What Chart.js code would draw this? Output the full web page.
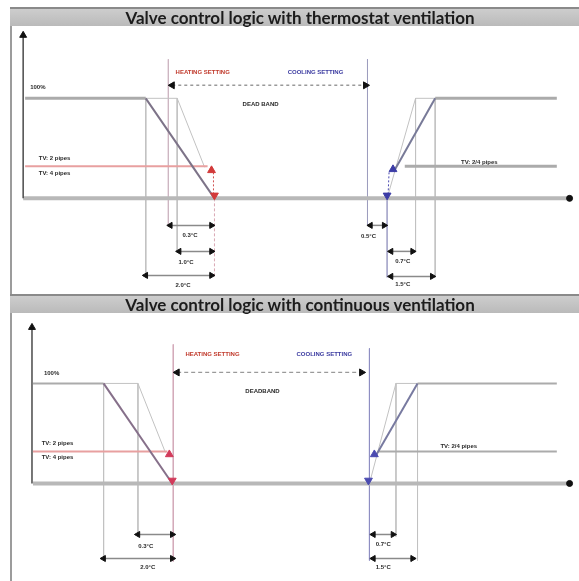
<!DOCTYPE html>
<html>
<head>
<meta charset="utf-8">
<script src="https://cdn.jsdelivr.net/npm/chart.js@4"></script>
<style>
html,body{margin:0;padding:0;background:#fff;width:579px;height:581px;overflow:hidden;}
#wrap{position:relative;width:579px;height:581px;overflow:hidden;}
.bar{position:absolute;left:10px;width:580px;height:17px;background:linear-gradient(#cdcdcd,#bababa);border-top:2px solid #8a8a8a;
 font:bold 17px Lato, "Liberation Sans", sans-serif;color:#1c1c1c;text-align:center;line-height:17px;white-space:nowrap;}
.frame{position:absolute;left:10px;top:8px;width:2px;height:573px;background:#9c9c9c;}
.panel{position:absolute;left:0;width:579px;height:268px;}
</style>
</head>
<body>
<div id="wrap">
  <div class="panel" style="top:26px"><canvas id="c1" width="579" height="268"></canvas></div>
  <div class="panel" style="top:313px"><canvas id="c2" width="579" height="268"></canvas></div>
  <div class="frame"></div>
  <div class="bar" style="top:7px">Valve control logic with thermostat ventilation</div>
  <div class="bar" style="top:294px">Valve control logic with continuous ventilation</div>
</div>
<script>
// ---------- DATA (x = temperature position along the axis, y = valve opening %) ----------
// Top panel: thermostat ventilation
const topBaseline   = [[18,0],[575,0]];
const topYAxis      = [[18,0],[18,163]];
const topHeat100    = [[20,100],[143,100]];
const topHeatRamp   = [[143,100],[213,0]];
const topHeatThin   = [[143,100],[175,100],[203,31]];
const topHeatTV     = [[20,32],[206,32]];
const topHeatMarks  = [[210,28],[213,3]];
const topHeatDrop   = [[212,26],[212,4]];
const topHeatVerts  = [[[143,100],[143,-79]],[[175,100],[175,-53]]];
const topHeatSetLn  = [[166,139],[166,-27]];
const topHeatEndLn  = [[213,0],[213,-79]];
const topCoolSetLn  = [[369,139],[369,-27]];
const topDeadBand   = [[170,113],[367,113]];
const topHeatDims   = [[[168,-27],[210,-27]],[[177,-53],[210,-53]],[[143,-77],[210,-77]]];
const topCoolMarks  = [[395,29],[389,3]];
const topCoolDrop   = [[391,26],[390,4]];
const topCoolThin   = [[389,0],[418,100],[438,100]];
const topCoolRamp   = [[396,27],[438,100]];
const topCool100    = [[438,100],[562,100]];
const topCoolTV     = [[407,32],[562,32]];
const topCoolStartLn= [[389,0],[389,-79]];
const topCoolVerts  = [[[418,100],[418,-53]],[[438,100],[438,-79]]];
const topCoolDims   = [[[372,-27],[386,-27]],[[393,-53],[415,-53]],[[393,-78],[435,-78]]];
const topLabelText  = ["100%","HEATING SETTING","COOLING SETTING","DEAD BAND","TV: 2 pipes","TV: 4 pipes","TV: 2/4 pipes","0.3°C","1.0°C","2.0°C","0.5°C","0.7°C","1.5°C"];
const topLabelX     = [33,201,316,260,50,50,483,188,184,181,370,405,405];
const topLabelY     = [111,125.6,125.6,94,40,25,36,-37,-64,-87,-38,-63,-86];
const topLabelKind  = ["k","h","c","k","k","k","k","k","k","k","k","k","k"];

// Bottom panel: continuous ventilation
const botBaseline   = [[28,0],[575,0]];
const botYAxis      = [[27,0],[27,156]];
const botHeat100    = [[28,100],[100,100]];
const botHeatRamp   = [[100,100],[170,0]];
const botHeatThin   = [[100,100],[135,100],[163,31]];
const botHeatTV     = [[28,32],[165,32]];
const botHeatMarks  = [[167,29],[170,3]];
const botHeatVerts  = [[[100,100],[100,-77]],[[135,100],[135,-53]]];
const botHeatSetLn  = [[171,139],[171,-78]];
const botDeadBand   = [[175,111],[363,111]];
const botCoolSetLn  = [[371,135],[371,-77]];
const botHeatDims   = [[[135,-51],[170,-51]],[[100,-75],[170,-75]]];
const botCoolMarks  = [[376,29],[370,3]];
const botCoolThin   = [[371,0],[398,100],[420,100]];
const botCoolRamp   = [[377,27],[420,100]];
const botCool100    = [[420,100],[562,100]];
const botCoolTV     = [[380,32],[562,32]];
const botCoolVerts  = [[[398,100],[398,-53]],[[420,100],[420,-77]]];
const botCoolDims   = [[[375,-51],[395,-51]],[[375,-75],[415,-75]]];
const botLabelText  = ["100%","HEATING SETTING","COOLING SETTING","DEADBAND","TV: 2 pipes","TV: 4 pipes","TV: 2/4 pipes","0.3°C","2.0°C","0.7°C","1.5°C"];
const botLabelX     = [47,211,325,262,53,53,462,143,145,385,385];
const botLabelY     = [110,129,129,92,40,26,37,-63,-84,-61,-84];
const botLabelKind  = ["k","h","c","k","k","k","k","k","k","k","k"];

// ---------- helpers ----------
function pts(a){ return a.map(p => ({x:p[0], y:p[1]})); }
function line(a, color, width, o){
  o = o || {};
  return {data:pts(a), borderColor:color, borderWidth:width, borderDash:o.dash||[],
    showLine: o.noLine ? false : true, pointRadius:o.r||0, pointStyle:o.ps||'circle',
    rotation:o.rot||0, pointBackgroundColor:o.pc||color, pointBorderColor:o.pc||color,
    pointBorderWidth:1, clip:false, order:(o.order===undefined?5:o.order)};
}
function dimArrow(a){ return line(a,'#8a8a8a',1.5,{r:[3.5,3.5],ps:'triangle',rot:[-90,90],pc:'#111',order:1}); }
function marks(a, color){ return line(a,color,0,{noLine:true,r:[4.5,4.5],ps:'triangle',rot:[0,180],pc:color,order:0}); }

const labelPlugin = {
  id:'labels',
  afterDatasetsDraw(chart, args, opts){
    const ctx = chart.ctx, xs = chart.scales.x, ys = chart.scales.y;
    ctx.save();
    ctx.textAlign='center'; ctx.textBaseline='middle';
    opts.text.forEach((t,i)=>{
      const k = opts.kind[i];
      ctx.fillStyle = k==='h' ? '#c0392b' : (k==='c' ? '#3a3aa0' : '#2a2a2a');
      ctx.font = 'bold 6px "Liberation Sans", Arial, sans-serif';
      ctx.fillText(t, xs.getPixelForValue(opts.x[i]), ys.getPixelForValue(opts.y[i]));
    });
    ctx.restore();
  }
};

function makeChart(id, ds, ymin, ymax, lab){
  new Chart(document.getElementById(id), {
    type:'scatter',
    data:{datasets:ds},
    options:{
      responsive:false, animation:false, events:[],
      layout:{padding:0},
      scales:{x:{type:'linear',min:0,max:579,display:false}, y:{type:'linear',min:ymin,max:ymax,display:false}},
      plugins:{legend:{display:false}, tooltip:{enabled:false}, labels:lab},
      elements:{line:{tension:0}}
    },
    plugins:[labelPlugin]
  });
}

const THIN='#c2c2c2', THICK='#ababab';
// ---------- top chart ----------
const topDs = [];
topHeatVerts.concat(topCoolVerts).forEach(v=>topDs.push(line(v,THIN,1,{order:10})));
topDs.push(line(topHeatSetLn,'#cdb6c2',1,{order:9}));
topDs.push(line(topHeatEndLn,'#d9a9b4',1,{dash:[3,2],order:9}));
topDs.push(line(topCoolSetLn,'#9d9dbf',1,{order:9}));
topDs.push(line(topCoolStartLn,'#a9a9cc',1,{order:9}));
topDs.push(line(topBaseline,'#b8b8b8',4,{r:[0,3],pc:'#111',order:8}));
topDs.push(line(topYAxis,'#4a4a4a',1.5,{r:[0,4],ps:'triangle',pc:'#111',order:7}));
topDs.push(line(topHeat100,THICK,3));
topDs.push(line(topHeatThin,THIN,1,{order:6}));
topDs.push(line(topHeatTV,'#e8a0a0',2));
topDs.push(line(topHeatRamp,'#7d7388',2,{order:4}));
topDs.push(line(topHeatDrop,'#d05050',1,{dash:[2,2],order:2}));
topDs.push(marks(topHeatMarks,'#d23a3a'));
topDs.push(line(topCoolThin,THIN,1,{order:6}));
topDs.push(line(topCoolRamp,'#787a98',2,{order:4}));
topDs.push(line(topCool100,THICK,3));
topDs.push(line(topCoolTV,THICK,3));
topDs.push(line(topCoolDrop,'#4a4ab0',1,{dash:[2,2],order:2}));
topDs.push(marks(topCoolMarks,'#3c3ca6'));
topDs.push(line(topDeadBand,'#9a9a9a',1.5,{dash:[3,3],r:[4,4],ps:'triangle',rot:[-90,90],pc:'#111',order:1}));
topHeatDims.concat(topCoolDims).forEach(d=>topDs.push(dimArrow(d)));
makeChart('c1', topDs, -90.1, 166.8, {text:topLabelText,x:topLabelX,y:topLabelY,kind:topLabelKind});

// ---------- bottom chart ----------
const botDs = [];
botHeatVerts.concat(botCoolVerts).forEach(v=>botDs.push(line(v,THIN,1,{order:10})));
botDs.push(line(botHeatSetLn,'#d4aabb',1,{order:9}));
botDs.push(line(botCoolSetLn,'#8f8fc2',1,{order:9}));
botDs.push(line(botBaseline,'#b8b8b8',4,{r:[0,3],pc:'#111',order:8}));
botDs.push(line(botYAxis,'#4a4a4a',1.5,{r:[0,4],ps:'triangle',pc:'#111',order:7}));
botDs.push(line(botHeat100,THICK,2));
botDs.push(line(botHeatThin,THIN,1,{order:6}));
botDs.push(line(botHeatTV,'#e8a0a0',2));
botDs.push(line(botHeatRamp,'#86708a',2,{order:4}));
botDs.push(marks(botHeatMarks,'#d23a5a'));
botDs.push(line(botCoolThin,THIN,1,{order:6}));
botDs.push(line(botCoolRamp,'#787aa0',2,{order:4}));
botDs.push(line(botCool100,THICK,2));
botDs.push(line(botCoolTV,THICK,2));
botDs.push(marks(botCoolMarks,'#4a4ab0'));
botDs.push(line(botDeadBand,'#9a9a9a',1.2,{dash:[4,3],r:[4,4],ps:'triangle',rot:[-90,90],pc:'#111',order:1}));
botHeatDims.concat(botCoolDims).forEach(d=>botDs.push(dimArrow(d)));
makeChart('c2', botDs, -92, 164.9, {text:botLabelText,x:botLabelX,y:botLabelY,kind:botLabelKind});
</script>
</body>
</html>
